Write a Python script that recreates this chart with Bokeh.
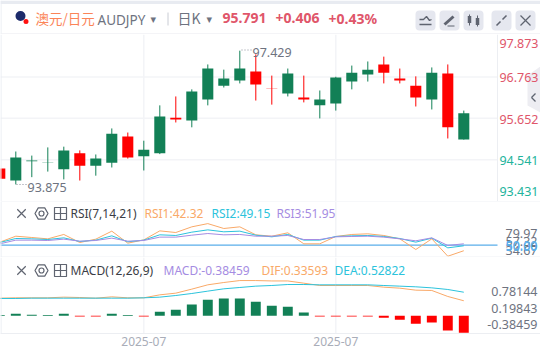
from bokeh.plotting import figure
from bokeh.layouts import column
from bokeh.models import Range1d, FixedTicker, LinearAxis
from bokeh.core.properties import value
from bokeh.embed import file_html
from bokeh.resources import INLINE

# ---- data ----
high  = [94.30,94.76,94.65,94.87,94.89,94.79,94.68,95.38,95.27,95.05,96.00,96.24,96.43,97.10,96.96,97.47,97.37,96.80,96.99,96.80,96.40,96.77,97.07,97.18,97.31,96.99,96.78,97.02,97.10,95.86]
top   = [94.30,94.60,94.52,94.46,94.79,94.71,94.57,95.24,95.16,94.81,95.70,95.67,96.37,96.99,96.72,96.99,96.91,96.45,96.86,96.21,96.16,96.75,96.88,96.96,97.10,96.72,96.53,96.88,96.86,95.791]
bot   = [94.03,93.98,94.50,94.45,94.28,94.38,94.38,94.46,94.60,94.63,94.71,95.62,95.59,96.16,96.53,96.67,96.56,96.44,96.32,96.16,96.00,96.05,96.64,96.83,96.88,96.67,96.21,96.16,95.41,95.08]
low   = [94.03,93.875,94.07,94.22,94.01,93.98,94.11,94.33,94.57,94.25,94.69,95.54,95.41,96.00,96.48,96.59,96.13,96.02,96.24,96.08,95.65,95.86,96.43,96.64,96.59,96.59,95.97,95.89,95.11,95.08]
up    = [0,1,1,1,1,0,1,1,0,1,1,0,1,1,1,1,0,0,1,0,1,1,1,1,0,0,0,1,0,1]
rsi1  = [54.2,62.5,60.7,58.8,64.9,53.7,58.4,69.5,52.8,57.4,69.9,67.6,75.5,79.97,73.2,75.5,64.4,62.5,67.2,51.9,51.9,62.1,64.9,65.8,63.5,58.8,44.0,58.8,34.67,42.32]
rsi2  = [53.7,59.3,58.8,57.9,60.2,55.1,57.0,63.0,54.7,57.0,64.4,63.5,68.1,71.3,68.6,69.5,63.9,61.6,64.9,57.0,57.0,62.1,63.0,63.5,62.1,59.3,54.2,59.8,46.3,49.15]
rsi3  = [51.9,57.0,57.0,56.5,58.4,55.6,56.5,59.8,55.6,56.5,61.2,61.2,63.9,66.2,64.4,64.9,62.5,62.5,63.5,57.9,57.9,61.6,62.1,62.5,61.2,58.8,56.1,60.2,49.6,51.95]
dif   = [.394,.402,.402,.402,.417,.409,.394,.424,.402,.402,.469,.507,.597,.694,.746,.79,.79,.781,.781,.731,.679,.679,.679,.679,.641,.619,.574,.567,.432,.336]
dea   = [.387,.387,.394,.394,.394,.394,.394,.394,.394,.402,.417,.454,.499,.552,.604,.634,.664,.679,.701,.701,.694,.694,.694,.694,.679,.664,.649,.626,.589,.528]
hist  = [.015,.045,.02,.015,.045,-.02,-.02,.045,.015,-.02,.09,.135,.25,.36,.385,.385,.315,.225,.2,.07,-.02,-.02,-.02,-.02,-.045,-.09,-.18,-.155,-.335,-.38459]
price_ticks = [96.763,95.652,94.541]
date_ticks = {9:"2025-07",21:"2025-07"}
idx = list(range(len(high)))

GREEN="#128056"; RED="#ff0000"; GRID="#f3f4f7"; GREY="#6e7380"
ORANGE="#f9a968"; CYAN="#2cc3dc"; PURPLE="#a58ce2"; REDT="#e0566a"; GREENT="#22b39c"; ZERO="#5aaeea"; STRIP="#e8ebf1"
X0=0.7/16; X1=540.7/16

def base(h, y0, y1, top, bottom):
    p = figure(width=540, height=h, output_backend="svg", toolbar_location=None,
               x_range=Range1d(X0,X1), y_range=Range1d(y0,y1), x_axis_type=None, y_axis_type=None,
               min_border=0, min_border_left=0, min_border_right=0, min_border_top=0, min_border_bottom=0)
    p.outline_line_color=None
    p.grid.visible=False
    p.extra_x_ranges["px"]=Range1d(0,540)
    p.extra_y_ranges["py"]=Range1d(bottom,top)
    return p

def txt(p,x,y,s,color=GREY,size=12,style="normal",align="left",font="Noto Sans"):
    p.text([x],[y],text=[s],text_color=color,text_font_size=f"{size}px",text_font_style=style,
           text_align=align,text_baseline="middle",text_font=value(font),x_range_name="px",y_range_name="py")

def px_line(p,xs,ys,color=GRID,width=1,dash="solid"):
    p.line(xs,ys,line_color=color,line_width=width,line_dash=dash,x_range_name="px",y_range_name="py")

def vgrid(p,y0,y1):
    for k in date_ticks:
        p.segment([k],[y0],[k],[y1],line_color=GRID,line_width=1.5)

def pane_icons(p,y):
    p.scatter([21],[y],marker="x",size=12,line_color="#5f6470",fill_color=None,line_width=1.2,x_range_name="px",y_range_name="py")
    p.scatter([41],[y],marker="hex",size=13,line_color="#5f6470",fill_color=None,line_width=1.2,x_range_name="px",y_range_name="py")
    p.scatter([41],[y],marker="circle",size=5,line_color="#5f6470",fill_color=None,line_width=1.2,x_range_name="px",y_range_name="py")
    p.scatter([60],[y],marker="square_cross",size=12,line_color="#5f6470",fill_color=None,line_width=1.2,x_range_name="px",y_range_name="py")

# ---- header ----
h = base(34,0,1,0,34)
h.quad([0],[540],[3.5],[0],fill_color=STRIP,line_color=None,x_range_name="px",y_range_name="py")
px_line(h,[0.5,0.5],[0,34],color=STRIP,width=1)
px_line(h,[0,540],[33.5,33.5],color="#f0f1f4",width=1.5)
h.scatter([20],[15.5],marker="circle",size=10,fill_color="#1d2b6b",line_color=None,x_range_name="px",y_range_name="py")
h.scatter([25.5],[21],marker="circle",size=5,fill_color="#ff1010",line_color=None,x_range_name="px",y_range_name="py")
txt(h,35,17.5,"澳元/日元",color="#fb8458",size=13.5,font="Noto Sans CJK SC")
txt(h,97,19,"AUDJPY",color=GREY,size=13.5)
txt(h,150,18.5,"▾",color=GREY,size=11,font="DejaVu Sans")
px_line(h,[167.5,167.5],[12,25],color="#c9ccd4")
txt(h,177,17.5,"日K",color=GREY,size=14,font="Noto Sans CJK SC")
txt(h,206,18.5,"▾",color=GREY,size=11,font="DejaVu Sans")
txt(h,222,17.5,"95.791",color=REDT,size=14,style="bold")
txt(h,275,17.5,"+0.406",color=REDT,size=14,style="bold")
txt(h,328,17.5,"+0.43%",color=REDT,size=14,style="bold")
for bx in [425,449,473,501,525]:
    h.rect([bx],[20],width=20,height=20,fill_color="#e5e7ef",line_color=None,border_radius=4,x_range_name="px",y_range_name="py")
h.line([419,423,426,429,431],[19,19,16,20,19],line_color="#5f6470",line_width=1.3,x_range_name="px",y_range_name="py")
px_line(h,[419,431],[24,24],color="#5f6470",width=1.3)
h.line([444,453],[24,16],line_color="#5f6470",line_width=3,x_range_name="px",y_range_name="py")
px_line(h,[447,454],[25.5,25.5],color="#5f6470",width=1)
h.rect([469,477],[19,21],width=3.5,height=7,fill_color="#5f6470",line_color=None,x_range_name="px",y_range_name="py")
px_line(h,[469,469],[14,25],color="#5f6470"); px_line(h,[477,477],[15,26],color="#5f6470")
px_line(h,[496,500],[25,21],color="#5f6470",width=1.6); px_line(h,[502,506],[19,15],color="#5f6470",width=1.6)
px_line(h,[520,530],[15,25],color="#5f6470",width=1.2); px_line(h,[530,520],[15,25],color="#5f6470",width=1.2)

# ---- candles ----
m = base(167,93.416,97.905,34,201)
for t in price_ticks:
    m.segment([X0],[t],[31.1],[t],line_color=GRID,line_width=1.5)
vgrid(m,93.416,97.905)
px_line(m,[497,497],[34,201],color="#eceef2",width=1)
m.patch([527,527,540,540],[75,105,112,66],fill_color="#ededf2",line_color=None,x_range_name="px",y_range_name="py")
px_line(m,[535,531],[93,97],color="#5f6470",width=1.3); px_line(m,[531,535],[97,101],color="#5f6470",width=1.3)
for flag,col in ((1,GREEN),(0,RED)):
    ii=[i for i in idx if up[i]==flag]
    m.segment(ii,[low[i] for i in ii],ii,[high[i] for i in ii],line_color=col,line_width=1)
    m.vbar(ii,width=0.69,bottom=[bot[i] for i in ii],top=[top[i] for i in ii],fill_color=col,line_color=None)
px_line(m,[241,251],[49.5,49.5],color="#8b8f9a",dash="1 2")
txt(m,252,52,"97.429",size=12.5)
px_line(m,[16,26],[184,184],color="#8b8f9a",dash="1 2")
txt(m,27,187,"93.875",size=12.5)
for s,y,c in (("97.873",43,REDT),("96.763",77,REDT),("95.652",118.5,REDT),("94.541",160,GREENT),("93.431",191,GREENT)):
    txt(m,538,y,s,color=c,size=12.5,align="right")
px_line(m,[0.5,0.5],[34,201],color=STRIP,width=1)

# ---- RSI ----
r = base(56,32.9,110.7,201,257)
vgrid(r,32.9,110.7)
px_line(r,[0,497],[244.7,244.7],color=ZERO,width=1.2)
r.line(idx,rsi1,line_color=ORANGE,line_width=1)
r.line(idx,rsi2,line_color=CYAN,line_width=1)
r.line(idx,rsi3,line_color=PURPLE,line_width=1)
pane_icons(r,213)
txt(r,70,213,"RSI(7,14,21)",color="#3a3d45",size=12)
txt(r,144,213,"RSI1:42.32",color=ORANGE,size=12)
txt(r,211,213,"RSI2:49.15",color=CYAN,size=12)
txt(r,276,213,"RSI3:51.95",color=PURPLE,size=12)
for s,y,c in (("79.97",233,GREY),("57.32",241,GREY),("34.67",250,GREY),("50.00",245,ZERO),("50.00",246,ZERO)):
    txt(r,537,y,s,color=c,size=12.5,align="right")
px_line(r,[0,540],[256.5,256.5],color="#eff1f5",width=1.2)
px_line(r,[0.5,0.5],[201,257],color=STRIP,width=1)
px_line(r,[0,540],[201,201],color="#eff1f5",width=1.2)

# ---- MACD ----
M = base(91,-0.40,1.308,257,333)
vgrid(M,-0.40,1.308)
cols=[GREEN if v>0 else RED for v in hist]
M.vbar(idx,width=0.62,bottom=0,top=hist,fill_color=cols,line_color=None)
M.line(idx,dif,line_color=ORANGE,line_width=1)
M.line(idx,dea,line_color=CYAN,line_width=1)
pane_icons(M,270)
txt(M,70,270,"MACD(12,26,9)",color="#3a3d45",size=12)
txt(M,163,270,"MACD:-0.38459",color=PURPLE,size=12)
txt(M,261,270,"DIF:0.33593",color=ORANGE,size=12)
txt(M,334,270,"DEA:0.52822",color=CYAN,size=12)
for s,y in (("0.78144",291,),("0.19843",308,),("-0.38459",324,)):
    txt(M,537,y,s,size=12.5,align="right")
px_line(M,[0.5,0.5],[257,333],color=STRIP,width=1)
ax=LinearAxis(ticker=FixedTicker(ticks=list(date_ticks)),major_label_overrides=date_ticks,
              major_tick_line_color=None,minor_tick_line_color=None,axis_line_color="#eceef2",
              major_label_text_color="#a9adb8",major_label_text_font_size="12px",
              major_label_text_font="Noto Sans",major_label_standoff=-3)
M.add_layout(ax,"below")

page=column(h,m,r,M,spacing=0)
open("out.html","w").write(file_html(page,INLINE))
